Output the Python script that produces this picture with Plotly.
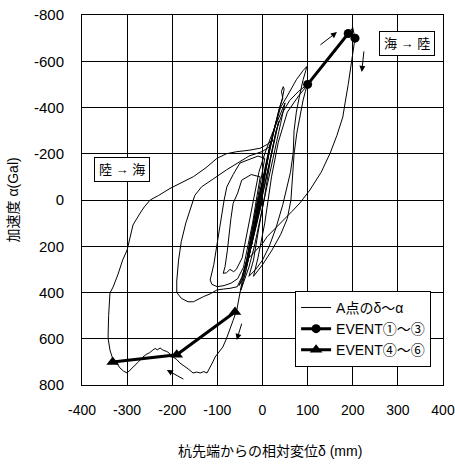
import plotly.graph_objects as go

# ---------------- data ----------------
delta_A = [
    0, -12, -22, -30, -20, -8, 2, 10, 18, 10, -5, -18, -28, -38, -45, -35, -22, -10, 5, 15, 25, 32, 22, 8, -8, -20, -32, -24, -12, 0, 12, 28, 38, 45,
    42, 46, 48, 44, 35, 20, 5, -10, -26, -42, -52, -40, -25, -10, 8, 24, 40, 55, 75, 90, 98, 96, 90, 83, 75, 70, 68, 62, 54, 45, 30, 15, 0, -15, -30,
    -20, -8, 5, 18, 30, 45, 60, 80, 100,
    95, 90, 82, 76, 70, 68, 65, 63, 55, 40, 20, 0, -20, -10, 5, 20, 35, 55, 80, 100,
    130, 160, 190, 200, 205, 203, 198, 190, 183, 178, 165, 150, 130, 118, 105, 90, 83, 65, 50, 39, 20, 10, 1, -15, -35, -45, -57,
    -65, -72, -80, -88, -95, -100, -105, -110, -115, -120, -123, -130, -138, -146, -154, -165, -175, -183, -190, -198, -205, -212, -220, -227,
    -233, -238, -243, -250, -258, -265, -275, -285, -294, -300, -308, -316, -325, -333, -338, -342, -342, -341, -338, -331, -320, -310, -300,
    -287, -271, -262, -249, -230, -205, -180, -153, -125, -101, -80, -57, -30, -5, 10, 23,
    15, 0, -30, -50, -80, -110, -135, -150, -160, -170, -180, -186, -190, -190, -180, -165, -153, -140, -131, -115, -101, -86, -72, -56, -45, -35,
    -25, -15, -5, 5, -10, -30, -50, -65, -79, -85, -90, -96, -101, -108, -116, -112, -100, -85, -70, -55, -42,
    -32, -22, -12, -5, -25, -46, -55, -65, -70, -74, -78, -83, -87, -80, -72, -64, -58, -45, -35, -22, -8, 5, 20, 35, 50,
    40, 25, 10, -5, -18, -30, -40, -48, -36, -24, -12, 0, 14, 26, 36, 28, 14, 0, -14, -26, -36, -28, -16, -5, 0,
]
alpha_A = [
    0, 80, 160, 230, 150, 40, -60, -150, -250, -180, -40, 100, 200, 290, 330, 260, 120, 0, -120, -220, -300, -350, -280, -150, 0, 150, 260, 180, 60, -60, -180, -320, -400, -440,
    -470, -490, -480, -440, -380, -260, -120, 20, 200, 320, 370, 330, 200, 40, -140, -290, -400, -450, -520, -560, -577, -560, -520, -460, -380, -300, -203, -120, -56, 20, 120, 200, 260, 300, 330,
    260, 120, -20, -180, -300, -380, -430, -470, -500,
    -470, -432, -350, -289, -200, -143, -50, 0, 80, 150, 220, 280, 330, 250, 100, -100, -250, -380, -450, -500,
    -570, -640, -720, -745, -700, -670, -600, -500, -420, -359, -280, -203, -120, -80, -43, -5, 13, 50, 80, 101, 140, 159, 186, 220, 260, 350, 476,
    520, 560, 600, 636, 655, 668, 679, 700, 720, 740, 748, 742, 748, 744, 748, 730, 715, 705, 690, 679, 665, 655, 650, 640,
    648, 642, 649, 660, 668, 679, 700, 720, 735, 748, 740, 726, 700, 680, 649, 600, 575, 500, 402, 376, 320, 260, 216,
    108, 56, 30, 0, -20, -50, -75, -101, -140, -180, -200, -209, -215, -224, -240, -260,
    -230, -210, -190, -166, -130, -90, -57, -20, 40, 100, 180, 260, 350, 400, 425, 440, 440, 425, 418, 405, 389, 385, 382, 375, 330, 260,
    150, 40, -80, -180, -190, -175, -160, -110, -57, 0, 58, 130, 202, 280, 346, 365, 375, 370, 360, 340, 290,
    200, 100, -20, -100, -110, -86, -30, 14, 80, 160, 220, 288, 317, 315, 300, 310, 300, 250, 150, 20, -120, -200, -280, -350, -420,
    -330, -200, -60, 80, 200, 290, 350, 390, 300, 190, 80, -30, -160, -260, -340, -270, -150, -20, 110, 210, 290, 220, 120, 30, 0,
]

delta_E13 = [100, 190, 205]
alpha_E13 = [-500, -720, -700]

delta_E46 = [-61, -190, -332]
alpha_E46 = [484, 669, 701]

x_ticks = [-400, -300, -200, -100, 0, 100, 200, 300, 400]
x_ticktext = ["-400", "-300", "-200", "-100", "0", "100", "200", "300", "400"]
y_ticks = [-800, -600, -400, -200, 0, 200, 400, 600, 800]
y_ticktext = ["-800", "-600", "-400", "-200", "0", "200", "400", "600", "800"]

series_names = ["A点のδ～α", "EVENT①～③", "EVENT④～⑥"]
x_title = "杭先端からの相対変位δ (mm)"
y_title = "加速度 α(Gal)"

# direction arrows: (head x, head y, tail x, tail y)
arrows = [
    (165, -726, 125, -666),
    (220, -554, 225, -649),
    (-212, 735, -172, 778),
    (-57, 605, -45, 528),
]

FONT = "Liberation Sans, Arial, Noto Sans CJK JP, sans-serif"

fig = go.Figure()
fig.add_trace(go.Scatter(
    x=delta_A, y=alpha_A, mode="lines", name=series_names[0],
    line=dict(color="black", width=1),
))
fig.add_trace(go.Scatter(
    x=delta_E13, y=alpha_E13, mode="lines+markers", name=series_names[1],
    line=dict(color="black", width=3),
    marker=dict(symbol="circle", size=9, color="black"),
))
fig.add_trace(go.Scatter(
    x=delta_E46, y=alpha_E46, mode="lines+markers", name=series_names[2],
    line=dict(color="black", width=3),
    marker=dict(symbol="triangle-up", size=11, color="black"),
))

annotations = []
for hx, hy, tx, ty in arrows:
    annotations.append(dict(
        x=hx, y=hy, ax=tx, ay=ty, xref="x", yref="y", axref="x", ayref="y",
        showarrow=True, arrowhead=2, arrowsize=1.2, arrowwidth=1, arrowcolor="black", text="",
    ))
annotations.append(dict(
    x=320, y=-675, xref="x", yref="y", text="海 → 陸", showarrow=False,
    font=dict(family=FONT, size=13, color="black"),
    bordercolor="black", borderwidth=1, borderpad=4, bgcolor="white",
))
annotations.append(dict(
    x=-311, y=-130, xref="x", yref="y", text="陸 → 海", showarrow=False,
    font=dict(family=FONT, size=13, color="black"),
    bordercolor="black", borderwidth=1, borderpad=4, bgcolor="white",
))
annotations.append(dict(
    x=0.52, y=-0.178, xref="paper", yref="paper", text=x_title, showarrow=False,
    xanchor="center", yanchor="middle", font=dict(family=FONT, size=14, color="black"),
))
annotations.append(dict(
    x=-0.19, y=0.5, xref="paper", yref="paper", text=y_title, showarrow=False,
    textangle=-90, xanchor="center", yanchor="middle",
    font=dict(family=FONT, size=14, color="black"),
))

fig.update_layout(
    width=455, height=465,
    margin=dict(l=82, r=12, t=15, b=80),
    paper_bgcolor="white", plot_bgcolor="white",
    font=dict(family=FONT, size=14, color="black"),
    showlegend=True,
    legend=dict(
        x=0.967, y=0.049, xanchor="right", yanchor="bottom",
        bgcolor="white", bordercolor="black", borderwidth=1,
        font=dict(family=FONT, size=14, color="black"),
        itemwidth=30, tracegroupgap=0,
    ),
    annotations=annotations,
)
fig.update_xaxes(
    range=[-400, 400], tickvals=x_ticks, ticktext=x_ticktext,
    showgrid=True, gridcolor="black", gridwidth=1,
    zeroline=True, zerolinecolor="black", zerolinewidth=1,
    showline=True, linecolor="black", linewidth=1, mirror=True,
    ticks="", ticklabelstandoff=12, automargin=False,
    tickfont=dict(family=FONT, size=14, color="black"),
)
fig.update_yaxes(
    range=[800, -800], tickvals=y_ticks, ticktext=y_ticktext,
    showgrid=True, gridcolor="black", gridwidth=1,
    zeroline=True, zerolinecolor="black", zerolinewidth=1,
    showline=True, linecolor="black", linewidth=1, mirror=True,
    ticks="", ticklabelstandoff=14, automargin=False,
    tickfont=dict(family=FONT, size=15, color="black"),
)

fig.write_html("out.html")
